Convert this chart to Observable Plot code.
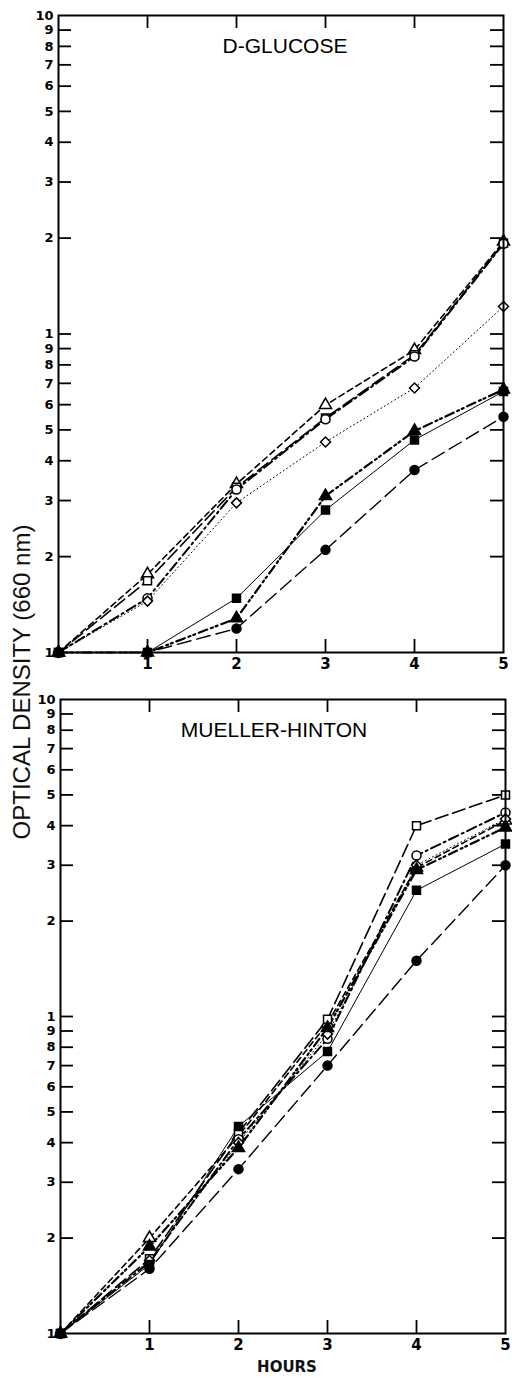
<!DOCTYPE html>
<html>
<head>
<meta charset="utf-8">
<script src="https://cdn.jsdelivr.net/npm/d3@7"></script>
<script src="https://cdn.jsdelivr.net/npm/@observablehq/plot@0.6"></script>
<style>
  body { margin: 0; background: white; }
  #chart { position: relative; width: 512px; height: 1378px; font-family: "Liberation Sans", Arial, sans-serif; }
  .panel { position: absolute; left: 0; z-index: 0; }
  #ylabel { position: absolute; z-index: 2; left: 22px; top: 682px; transform: translate(-50%, -50%) rotate(-90deg); font-size: 24px; white-space: nowrap; color: #111; }
  #xlabel { position: absolute; z-index: 2; left: 287px; top: 1367px; transform: translate(-50%, -50%); font-family: "DejaVu Sans", sans-serif; font-size: 15px; line-height: 15px; font-weight: bold; color: #111; }
</style>
</head>
<body>
<div id="chart">
  <div id="ylabel">OPTICAL DENSITY (660 nm)</div>
  <div id="xlabel">HOURS</div>
</div>
<script>
// ---- data ----
const hours = [0, 1, 2, 3, 4, 5];
const seriesNames = ["open triangle", "open square", "open circle", "open diamond", "filled square", "filled triangle", "filled circle"];

// D-GLUCOSE panel
const glucoseOpenTriangle  = [0.1, 0.176, 0.338, 0.598, 0.89, 1.95];
const glucoseOpenSquare    = [0.1, 0.168, 0.33, 0.545, 0.86, 1.93];
const glucoseOpenCircle    = [0.1, 0.148, 0.325, 0.54, 0.85, 1.92];
const glucoseOpenDiamond   = [0.1, 0.145, 0.295, 0.458, 0.677, 1.22];
const glucoseFilledSquare  = [0.1, 0.1, 0.148, 0.28, 0.465, 0.66];
const glucoseFilledTriangle= [0.1, 0.1, 0.128, 0.31, 0.496, 0.67];
const glucoseFilledCircle  = [0.1, 0.1, 0.119, 0.21, 0.374, 0.55];

// MUELLER-HINTON panel
const muellerOpenTriangle  = [0.1, 0.2, 0.42, 0.95, 2.95, 4.15];
const muellerOpenSquare    = [0.1, 0.172, 0.43, 0.98, 4.0, 5.0];
const muellerOpenCircle    = [0.1, 0.168, 0.41, 0.85, 3.22, 4.4];
const muellerOpenDiamond   = [0.1, 0.17, 0.40, 0.88, 3.0, 4.2];
const muellerFilledSquare  = [0.1, 0.165, 0.45, 0.775, 2.5, 3.5];
const muellerFilledTriangle= [0.1, 0.188, 0.385, 0.92, 2.9, 3.95];
const muellerFilledCircle  = [0.1, 0.16, 0.33, 0.70, 1.5, 3.0];

const yTickValues = [0.1,0.2,0.3,0.4,0.5,0.6,0.7,0.8,0.9,1,2,3,4,5,6,7,8,9,10];
const xTickValues = [1, 2, 3, 4, 5];

// ---- styles ----
const styles = {
  "open triangle":  {symbol: "triangle", fill: "white", dash: "6,4", width: 1.6},
  "open square":    {symbol: "square",   fill: "white", dash: "13,5", width: 1.6},
  "open circle":    {symbol: "circle",   fill: "white", dash: "10,4,2,4", width: 2},
  "open diamond":   {symbol: "diamond2", fill: "white", dash: "1,3", width: 1},
  "filled square":  {symbol: "square",   fill: "black", dash: null, width: 1},
  "filled triangle":{symbol: "triangle", fill: "black", dash: "9,4,2,3,2,4", width: 2.2},
  "filled circle":  {symbol: "circle",   fill: "black", dash: "14,6", width: 1.4}
};

function rows(arrays) {
  const out = [];
  seriesNames.forEach((s, i) => arrays[i].forEach((v, j) => out.push({series: s, hour: hours[j], od: v})));
  return out;
}

const glucoseRows = rows([glucoseOpenTriangle, glucoseOpenSquare, glucoseOpenCircle, glucoseOpenDiamond, glucoseFilledSquare, glucoseFilledTriangle, glucoseFilledCircle]);
const muellerRows = rows([muellerOpenTriangle, muellerOpenSquare, muellerOpenCircle, muellerOpenDiamond, muellerFilledSquare, muellerFilledTriangle, muellerFilledCircle]);

function panel(data, title, opts) {
  const {height, marginTop, marginBottom, marginLeft, marginRight, titleDx, titleDy} = opts;
  const W = 512 - marginLeft - marginRight;
  const H = height - marginTop - marginBottom;
  const tick = 13;
  const tickFont = "DejaVu Sans, sans-serif";
  const marks = [];
  // ticks (inward)
  marks.push(Plot.tickY(yTickValues.slice(1, -1), {y: d => d, insetRight: W - tick, strokeWidth: 1.8}));
  marks.push(Plot.tickY(yTickValues.slice(1, -1), {y: d => d, insetLeft: W - tick, strokeWidth: 1.8}));
  marks.push(Plot.tickX(xTickValues.slice(0, -1), {x: d => d, insetTop: H - tick, strokeWidth: 1.8}));
  marks.push(Plot.tickX(xTickValues.slice(0, -1), {x: d => d, insetBottom: H - tick, strokeWidth: 1.8}));
  // labels
  marks.push(Plot.axisY(yTickValues, {anchor: "left", tickSize: 0, tickPadding: 5, fontSize: 13, fontWeight: "bold", fontFamily: tickFont, label: null,
    tickFormat: d => d < 1 ? String(Math.round(d * 10)) : String(d)}));
  marks.push(Plot.axisX(xTickValues, {anchor: "bottom", tickSize: 0, tickPadding: 6, fontSize: 15, fontWeight: "bold", fontFamily: tickFont, label: null}));
  // lines
  for (const s of seriesNames) {
    const st = styles[s];
    marks.push(Plot.line(data.filter(d => d.series === s), {x: "hour", y: "od", stroke: "black", strokeWidth: st.width, strokeDasharray: st.dash || undefined}));
  }
  for (const s of seriesNames) {
    const st = styles[s];
    marks.push(Plot.dot(data.filter(d => d.series === s), {x: "hour", y: "od", symbol: st.symbol, r: 4.5, fill: st.fill, stroke: "black", strokeWidth: 1.5}));
  }
  marks.push(Plot.frame({stroke: "black", strokeWidth: 2}));
  marks.push(Plot.text([title], {text: d => d, frameAnchor: "top", dx: titleDx, dy: titleDy, fontSize: 21, lineAnchor: "middle"}));
  return Plot.plot({
    width: 512, height, marginTop, marginBottom, marginLeft, marginRight,
    style: {fontFamily: "Liberation Sans, Arial, sans-serif", background: "white", color: "black"},
    x: {domain: [0, 5], axis: null},
    y: {type: "log", domain: [0.1, 10], axis: null},
    marks
  });
}

const chart = document.getElementById("chart");
const p1 = panel(glucoseRows, "D-GLUCOSE", {height: 680, marginTop: 15, marginBottom: 28, marginLeft: 58, marginRight: 9, titleDx: 4, titleDy: 31});
p1.classList.add("panel"); p1.style.top = "0px";
const p2 = panel(muellerRows, "MUELLER-HINTON", {height: 698, marginTop: 19, marginBottom: 45, marginLeft: 60, marginRight: 7, titleDx: -9, titleDy: 31});
p2.classList.add("panel"); p2.style.top = "680px";
chart.insertBefore(p2, chart.firstChild);
chart.insertBefore(p1, chart.firstChild);
</script>
</body>
</html>
